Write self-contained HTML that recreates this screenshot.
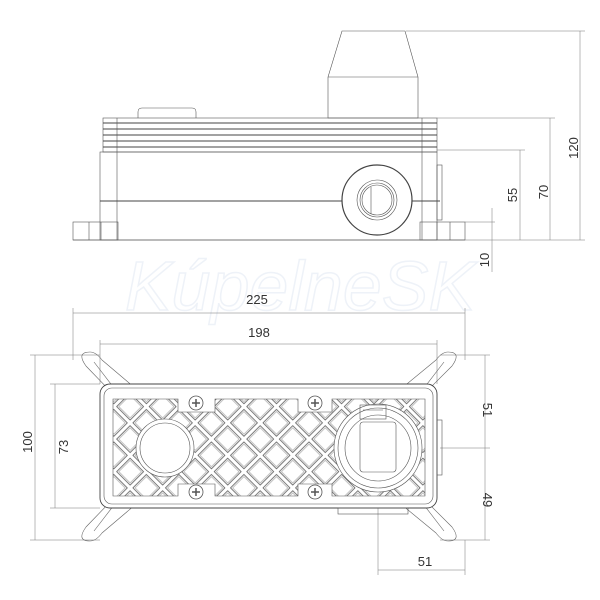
<!DOCTYPE html>
<html><head><meta charset="utf-8"><style>
html,body{margin:0;padding:0;background:#fff}
svg{display:block}
text{font-family:"Liberation Sans",sans-serif;font-size:13px;fill:#333}
</style></head><body>
<svg width="600" height="600" viewBox="0 0 600 600" xmlns="http://www.w3.org/2000/svg">
<defs>
<pattern id="dia" width="23" height="23" patternUnits="userSpaceOnUse" patternTransform="rotate(45 0 0)">
<rect x="2" y="2" width="19" height="19" fill="none" stroke="#444" stroke-width="0.7"/>
<rect x="3.5" y="3.5" width="16" height="16" fill="none" stroke="#888" stroke-width="0.5"/>
</pattern>
<clipPath id="gc"><path d="M113,399 H178 V412 H215 V399 H298 V412 H332 V399 H425 V496 H332 V484 H298 V496 H215 V484 H178 V496 H113 Z"/></clipPath>
</defs>
<text x="300" y="310" text-anchor="middle" style="font-size:70px;font-style:italic;fill:none;stroke:#eef2f8;stroke-width:1.5">KúpelneSK</text>
<g fill="none" stroke="#555" stroke-width="0.6">
<path d="M342,31 H405 L418,77 V118 H328 V77 Z"/>
<line x1="328" y1="77" x2="418" y2="77"/>
<path d="M138,118 V112 Q138,108 142,108 H192 Q196,108 196,112 V118"/>
<rect x="103" y="118" width="334" height="34"/>
<g stroke-width="0.9" stroke="#444"><line x1="103" y1="123" x2="437" y2="123"/><line x1="103" y1="129" x2="437" y2="129"/><line x1="103" y1="135" x2="437" y2="135"/><line x1="103" y1="141" x2="437" y2="141"/><line x1="103" y1="147" x2="437" y2="147"/></g>
<line x1="117" y1="118" x2="117" y2="240"/><line x1="422" y1="118" x2="422" y2="240"/>
<rect x="100" y="152" width="337" height="88"/>
<line x1="100" y1="201" x2="440" y2="201" stroke-width="1.1" stroke="#444"/>
<rect x="437" y="165" width="5" height="55"/>
<rect x="73" y="222" width="45" height="18"/><line x1="89" y1="222" x2="89" y2="240"/><line x1="101" y1="222" x2="101" y2="240"/>
<rect x="420" y="222" width="45" height="18"/><line x1="437" y1="222" x2="437" y2="240"/><line x1="450" y1="222" x2="450" y2="240"/>
<line x1="73" y1="240" x2="465" y2="240"/>
<circle cx="377" cy="200" r="35" fill="#fff" stroke-width="1.2" stroke="#444"/>
<circle cx="377" cy="200" r="20"/><circle cx="377" cy="200" r="17"/><circle cx="377" cy="200" r="15"/>
<line x1="371" y1="187" x2="371" y2="214"/>
<g stroke="#777" stroke-width="0.5">
<line x1="406" y1="31" x2="585" y2="31"/><line x1="580" y1="31" x2="580" y2="240"/>
<line x1="437" y1="118" x2="555" y2="118"/><line x1="550" y1="118" x2="550" y2="240"/>
<line x1="437" y1="150" x2="525" y2="150"/><line x1="520" y1="150" x2="520" y2="240"/>
<line x1="465" y1="240" x2="585" y2="240"/><line x1="492" y1="208" x2="492" y2="272"/>
<line x1="465" y1="222" x2="495" y2="222"/>
<line x1="73" y1="313" x2="465" y2="313"/><line x1="73" y1="308" x2="73" y2="360"/><line x1="465" y1="308" x2="465" y2="360"/>
<line x1="100" y1="344" x2="437" y2="344"/><line x1="100" y1="340" x2="100" y2="384"/><line x1="437" y1="340" x2="437" y2="384"/>
<line x1="30" y1="355" x2="100" y2="355"/><line x1="30" y1="540" x2="100" y2="540"/><line x1="35" y1="355" x2="35" y2="540"/>
<line x1="50" y1="384" x2="100" y2="384"/><line x1="50" y1="508" x2="100" y2="508"/><line x1="55" y1="384" x2="55" y2="508"/>
<line x1="440" y1="355" x2="490" y2="355"/><line x1="440" y1="448" x2="490" y2="448"/><line x1="440" y1="540" x2="490" y2="540"/><line x1="485" y1="355" x2="485" y2="540"/>
<line x1="378" y1="508" x2="378" y2="575"/><line x1="465" y1="540" x2="465" y2="575"/><line x1="378" y1="570" x2="465" y2="570"/>
</g>
<g stroke="#666">
<path d="M112,393 L86,366 Q76,352 90,352 Q96,352 102,360 L135,388"/>
<path d="M94,362 L114,388" />
<path d="M112,500 L86,527 Q76,541 90,541 Q96,541 102,533 L135,505"/>
<path d="M94,531 L114,505"/>
<path d="M425,393 L452,366 Q462,352 448,352 Q442,352 436,360 L402,388"/>
<path d="M444,362 L424,388"/>
<path d="M425,500 L452,527 Q462,541 448,541 Q442,541 436,533 L402,505"/>
<path d="M444,531 L424,505"/>
</g>
<rect x="100" y="384" width="337" height="124" rx="10" fill="#fff" stroke-width="0.9" stroke="#444"/>
<rect x="104" y="388" width="329" height="116" rx="8"/>
<rect x="437" y="420" width="5" height="55"/>
<rect x="338" y="508" width="70" height="6"/>
<rect x="113" y="399" width="312" height="97" fill="url(#dia)" stroke="none" clip-path="url(#gc)"/>
<path d="M113,399 H178 V412 H215 V399 H298 V412 H332 V399 H425 V496 H332 V484 H298 V496 H215 V484 H178 V496 H113 Z"/>
<circle cx="165" cy="448" r="29" fill="#fff"/><circle cx="165" cy="448" r="25"/>
<circle cx="378" cy="448" r="44" fill="#fff"/><circle cx="378" cy="448" r="40"/><circle cx="378" cy="448" r="33"/>
<rect x="360" y="422" width="36" height="50" rx="3"/>
<rect x="360" y="405" width="26" height="14"/><line x1="363" y1="410" x2="383" y2="410"/>
<g stroke-width="0.8"><g transform="translate(196,403)"><circle r="7"/><path d="M-4,0H4M0,-4V4" stroke-width="1.5"/></g>
<g transform="translate(315,403)"><circle r="7"/><path d="M-4,0H4M0,-4V4" stroke-width="1.5"/></g>
<g transform="translate(196,492)"><circle r="7"/><path d="M-4,0H4M0,-4V4" stroke-width="1.5"/></g>
<g transform="translate(315,492)"><circle r="7"/><path d="M-4,0H4M0,-4V4" stroke-width="1.5"/></g></g>
</g>
<text x="257" y="304" text-anchor="middle">225</text>
<text x="259" y="337" text-anchor="middle">198</text>
<text x="425" y="566" text-anchor="middle">51</text>
<text transform="translate(578,148) rotate(-90)" text-anchor="middle">120</text>
<text transform="translate(548,192) rotate(-90)" text-anchor="middle">70</text>
<text transform="translate(517,195) rotate(-90)" text-anchor="middle">55</text>
<text transform="translate(489,260) rotate(-90)" text-anchor="middle">10</text>
<text transform="translate(32,442) rotate(-90)" text-anchor="middle">100</text>
<text transform="translate(68,447) rotate(-90)" text-anchor="middle">73</text>
<text transform="translate(483,410) rotate(90)" text-anchor="middle">51</text>
<text transform="translate(483,500) rotate(90)" text-anchor="middle">49</text>
</svg>
</body></html>
